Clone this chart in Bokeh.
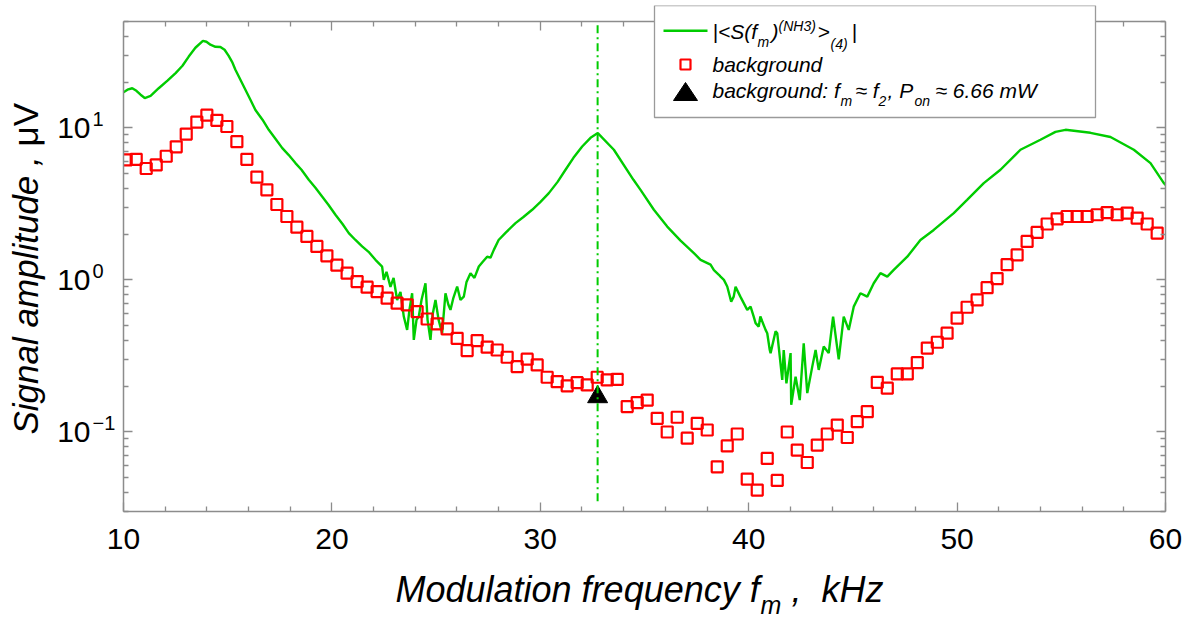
import math
from bokeh.plotting import figure
from bokeh.layouts import column, row
from bokeh.models import (Range1d, LinearAxis, LogAxis, FixedTicker, Label,
                          BoxAnnotation, PolyAnnotation, CustomJSTickFormatter)
from bokeh.embed import file_html
from bokeh.resources import INLINE

# ---------------- data ----------------
sig_f = [10.00, 10.19, 10.42, 10.62, 10.82, 11.02, 11.30, 11.69, 12.11, 12.50,
         12.83, 13.13, 13.45, 13.81, 13.98, 14.17, 14.41, 14.65, 14.85, 15.04,
         15.23, 15.37, 15.61, 15.85, 16.09, 16.33, 16.67, 16.97, 17.29, 17.62,
         17.92, 18.25, 18.54, 18.89, 19.21, 19.53, 19.84, 20.17, 20.51, 20.81,
         21.13, 21.45, 21.76, 22.09, 22.41, 22.49, 22.62, 22.81, 22.96, 23.13,
         23.29, 23.45, 23.61, 23.72, 23.85, 23.93, 24.06, 24.17, 24.30, 24.49,
         24.59, 24.73, 24.83, 24.97, 25.12, 25.29, 25.45, 25.59, 25.69, 25.83,
         26.01, 26.17, 26.33, 26.46, 26.65, 26.84, 27.05, 27.23, 27.45, 27.61,
         27.77, 28.00, 28.33, 28.81, 29.19, 29.61, 30.01, 30.41, 30.83, 31.21,
         31.59, 32.01, 32.41, 32.76, 33.53, 34.47, 34.81, 35.45, 36.09, 36.73,
         37.37, 37.69, 38.17, 38.33, 38.57, 38.65, 38.81, 38.97, 39.16, 39.28,
         39.37, 39.60, 39.93, 40.09, 40.24, 40.33, 40.48, 40.56, 40.81, 40.89,
         41.01, 41.05, 41.29, 41.37, 41.61, 41.68, 41.81, 42.01, 42.04, 42.25,
         42.45, 42.64, 42.81, 43.05, 43.21, 43.36, 43.60, 43.84, 44.05, 44.32,
         44.56, 44.80, 45.04, 45.36, 45.69, 46.00, 46.32, 46.65, 46.96, 47.61,
         48.24, 48.88, 49.84, 50.48, 51.28, 52.08, 53.04, 54.00, 54.72, 55.20,
         56.40, 57.36, 58.48, 59.28, 59.92, 60.00]
sig_v = [17.1, 17.8, 18.2, 17.5, 16.5, 15.7, 16.2, 18.2, 20.4, 22.9,
         25.6, 29.4, 33.6, 37.3, 36.8, 35.2, 34.1, 34.0, 32.6, 29.8,
         26.8, 24.1, 20.7, 17.8, 15.3, 13.1, 11.3, 9.70, 8.47, 7.35,
         6.64, 5.86, 5.30, 4.55, 4.03, 3.53, 3.11, 2.68, 2.33, 2.03,
         1.83, 1.66, 1.53, 1.355, 1.224, 1.0, 1.13, 0.90, 1.03, 0.738,
         0.834, 0.574, 0.469, 0.635, 0.817, 0.403, 0.546, 0.574, 0.738, 0.95,
         0.546, 0.403, 0.589, 0.738, 0.546, 0.446, 0.817, 0.686, 0.635, 0.762,
         0.904, 0.738, 0.776, 0.97, 1.107, 1.03, 1.224, 1.31, 1.42, 1.40,
         1.575, 1.83, 2.04, 2.36, 2.59, 2.89, 3.26, 3.72, 4.41, 5.30,
         6.35, 7.53, 8.59, 9.23, 7.17, 4.55, 3.91, 2.89, 2.24, 1.81,
         1.50, 1.355, 1.26, 1.16, 1.08, 1.05, 1.0, 0.904, 0.72, 0.776,
         0.90, 0.776, 0.635, 0.667, 0.574, 0.52, 0.493, 0.574, 0.469, 0.446,
         0.346, 0.330, 0.46, 0.446, 0.22, 0.346, 0.209, 0.330, 0.151, 0.231,
         0.162, 0.383, 0.180, 0.269, 0.346, 0.256, 0.365, 0.330, 0.574, 0.30,
         0.574, 0.469, 0.667, 0.817, 0.776, 0.95, 1.107, 1.05, 1.164, 1.42,
         1.83, 2.13, 2.75, 3.36, 4.33, 5.30, 7.17, 8.34, 9.4, 9.7,
         9.27, 8.7, 7.17, 5.86, 4.33, 4.2]

bg_f = [10.13, 10.61, 11.09, 11.57, 12.05, 12.53, 13.01, 13.52, 14.00, 14.48,
        14.96, 15.44, 15.92, 16.40, 16.88, 17.36, 17.84, 18.32, 18.80, 19.28,
        19.76, 20.24, 20.73, 21.21, 21.69, 22.17, 22.65, 23.13, 23.61, 24.09,
        24.57, 25.05, 25.53, 26.01, 26.49, 26.97, 27.45, 27.93, 28.41, 28.89,
        29.37, 29.85, 30.33, 30.81, 31.29, 31.77, 32.25, 32.73, 33.21, 33.69,
        34.17, 34.65, 35.13, 35.61, 36.09, 36.57, 37.05, 37.53, 38.01, 38.49,
        38.97, 39.45, 39.93, 40.41, 40.89, 41.37, 41.85, 42.33, 42.81, 43.29,
        43.77, 44.25, 44.73, 45.21, 45.69, 46.17, 46.65, 47.13, 47.61, 48.09,
        48.57, 49.05, 49.52, 50.00, 50.48, 50.96, 51.44, 51.92, 52.40, 52.88,
        53.36, 53.84, 54.32, 54.80, 55.28, 55.76, 56.24, 56.72, 57.20, 57.68,
        58.16, 58.64, 59.12, 59.60]
bg_v = [6.16, 6.2, 5.4, 5.7, 6.5, 7.5, 9.1, 10.9, 12.1, 11.2,
        10.2, 8.1, 6.2, 4.74, 3.91, 3.13, 2.61, 2.22, 1.93, 1.66,
        1.44, 1.25, 1.107, 0.975, 0.895, 0.838, 0.758, 0.703, 0.686, 0.618,
        0.553, 0.514, 0.476, 0.413, 0.343, 0.399, 0.361, 0.346, 0.310, 0.269,
        0.301, 0.276, 0.229, 0.214, 0.201, 0.211, 0.204, 0.229, 0.220, 0.222,
        0.147, 0.156, 0.162, 0.123, 0.100, 0.125, 0.091, 0.114, 0.103, 0.059,
        0.081, 0.097, 0.049, 0.0415, 0.067, 0.048, 0.100, 0.076, 0.063, 0.082,
        0.097, 0.111, 0.092, 0.117, 0.136, 0.212, 0.194, 0.241, 0.241, 0.286,
        0.356, 0.389, 0.446, 0.560, 0.661, 0.738, 0.889, 1.02, 1.26, 1.46,
        1.79, 2.05, 2.33, 2.52, 2.61, 2.61, 2.61, 2.68, 2.77, 2.68,
        2.75, 2.55, 2.33, 2.03]

tri_f = [32.75]
tri_v = [0.17]
f2_line_f = [32.75, 32.75]
f2_line_v = [0.035, 50]

x_ticks = [10, 20, 30, 40, 50, 60]
x_minor = [12, 14, 16, 18, 22, 24, 26, 28, 32, 34, 36, 38, 42, 44, 46, 48, 52, 54, 56, 58]
y_ticks = [0.1, 1, 10]
y_tick_base = ["10", "10", "10"]
y_exponents = ["\u22121", "0", "1"]
y_minor = [0.03, 0.04, 0.05, 0.06, 0.07, 0.08, 0.09,
           0.2, 0.3, 0.4, 0.5, 0.6, 0.7, 0.8, 0.9,
           2, 3, 4, 5, 6, 7, 8, 9, 20, 30, 40, 50]
y_axis_lo, y_axis_hi = 0.03, 50     # extent of the drawn axes
y_view_hi = 63.7                    # view top (room for the legend above the axis box)

GREEN = "#00cc00"
RED = "#ff0000"
AXC = "#8c8c8c"
FONT = "Liberation Sans"
NB = "\u00a0"

YT_W = 118
TOP_H = 515
XT_H = 103

blank = CustomJSTickFormatter(code="return ''")

def clean(fig):
    fig.outline_line_color = None
    fig.xgrid.visible = False
    fig.ygrid.visible = False
    fig.background_fill_color = "white"
    fig.border_fill_color = "white"

def style_axis(ax):
    ax.axis_line_color = AXC
    ax.axis_line_width = 1.5
    ax.major_tick_line_color = AXC
    ax.minor_tick_line_color = AXC
    ax.major_tick_line_width = 1.3
    ax.minor_tick_line_width = 1.3
    ax.major_tick_in = 9
    ax.major_tick_out = 0
    ax.minor_tick_in = 5
    ax.minor_tick_out = 0
    ax.major_label_text_font_size = "1px"
    ax.major_label_standoff = 0

# ---------------- main plot ----------------
p = figure(width=1190 - YT_W, height=TOP_H, x_range=Range1d(10, 60),
           y_range=Range1d(y_axis_lo, y_view_hi),
           y_axis_type="log", output_backend="svg", toolbar_location=None,
           min_border_left=5, min_border_right=25, min_border_top=5, min_border_bottom=4,
           x_axis_location=None, y_axis_location=None)
clean(p)

xt = FixedTicker(ticks=x_ticks, minor_ticks=x_minor)
yt = FixedTicker(ticks=y_ticks, minor_ticks=y_minor)

xb = LinearAxis(ticker=xt, formatter=blank)
style_axis(xb)
p.add_layout(xb, "below")
xa = LinearAxis(ticker=xt, formatter=blank, fixed_location=y_axis_hi)
style_axis(xa)
p.add_layout(xa, "above")
for loc in ("left", "right"):
    ax = LogAxis(ticker=yt, formatter=blank, bounds=(y_axis_lo, y_axis_hi))
    style_axis(ax)
    p.add_layout(ax, loc)

p.line(sig_f, sig_v, line_color=GREEN, line_width=2.4)
p.scatter(bg_f, bg_v, marker="square", size=11, fill_color=None,
          line_color=RED, line_width=2.2)
p.scatter(tri_f, tri_v, marker="triangle", size=20, fill_color="black", line_color="black")
p.line(f2_line_f, f2_line_v, line_color=GREEN, line_width=2, line_dash="8 4 2 4")

FL, FB = 123, 511
BASE_FIX = 0.3   # alphabetic baseline correction (fraction of font size)

def lab(fig, X, Y, text, size, left=FL, bottom=FB, italic=True, align="left", angle=0.0):
    if angle == 0.0:
        Y = Y - BASE_FIX * size
    else:
        X = X - BASE_FIX * size
    fig.add_layout(Label(x=X - left, y=bottom - Y, x_units="screen", y_units="screen",
                         text=text, text_font=FONT, text_font_size=f"{size}px",
                         text_font_style="italic" if italic else "normal",
                         text_align=align, text_baseline="alphabetic", angle=angle,
                         text_color="black"))

def sbox(l, r, t, b, **kw):
    p.add_layout(BoxAnnotation(left=l - FL, right=r - FL, top=FB - t, bottom=FB - b,
                               left_units="screen", right_units="screen",
                               top_units="screen", bottom_units="screen", **kw))

# legend
sbox(654, 1095, 5, 117, fill_color="white", fill_alpha=1.0,
     line_color="#9a9a9a", line_alpha=1.0, line_width=1.3)
sbox(663, 707, 29, 31.5, fill_color=GREEN, fill_alpha=1.0, line_color=None)
sbox(680, 690, 59, 69, fill_color=None, fill_alpha=0.0, line_color=RED,
     line_alpha=1.0, line_width=2.2)
p.add_layout(PolyAnnotation(xs=[673 - FL, 697 - FL, 685 - FL], ys=[FB - 100, FB - 100, FB - 82],
                            xs_units="screen", ys_units="screen",
                            fill_color="black", fill_alpha=1.0, line_color="black", line_alpha=1.0))

LS, SS = 21, 14
lab(p, 712, 37, "|<S(f", LS)
lab(p, 757, 46, "m", SS)
lab(p, 771, 37, ")", LS)
lab(p, 778, 30, "(NH3)", SS)
lab(p, 817, 37, ">", LS)
lab(p, 830, 48, "(4)", SS)
lab(p, 851, 37, "|", LS)

lab(p, 712, 70, "background", LS)

lab(p, 712, 96, "background: f", LS)
lab(p, 840, 105, "m", SS)
lab(p, 855, 96, "\u2248 f", LS)
lab(p, 878, 105, "2", SS)
lab(p, 887, 96, ", P", LS)
lab(p, 914, 105, "on", SS)
lab(p, 935, 96, "\u2248 6.66 mW", LS)

# ---------------- left strip: y tick labels + y title ----------------
yf = figure(width=YT_W, height=TOP_H, x_range=Range1d(0, YT_W), y_range=p.y_range,
            y_axis_type="log", output_backend="svg", toolbar_location=None,
            min_border_left=0, min_border_right=0, min_border_top=5, min_border_bottom=4,
            x_axis_location=None, y_axis_location=None)
clean(yf)
for v, b, e in zip(y_ticks, y_tick_base, y_exponents):
    yf.add_layout(Label(x=90, y=v, x_units="screen", y_units="data", text=b,
                        text_font=FONT, text_font_size="30px", text_align="right",
                        text_baseline="middle", text_color="black"))
    yf.add_layout(Label(x=92, y=v, x_units="screen", y_units="data", y_offset=9, text=e,
                        text_font=FONT, text_font_size="20px", text_align="left",
                        text_baseline="alphabetic", text_color="black"))
lab(yf, 35, 434, "Signal amplitude ,", 35, left=0, angle=math.pi / 2)
lab(yf, 35, 146, "\u03bcV", 35, left=0, italic=False, angle=math.pi / 2)

# ---------------- bottom strip: x tick labels + x title ----------------
xf = figure(width=1190, height=XT_H, x_range=p.x_range, y_range=Range1d(0, 1),
            output_backend="svg", toolbar_location=None,
            min_border_left=123, min_border_right=25, min_border_top=45, min_border_bottom=0,
            x_axis_location=None, y_axis_location=None)
clean(xf)
xl = LinearAxis(ticker=xt)
xl.axis_line_color = None
xl.major_tick_line_color = None
xl.minor_tick_line_color = None
xl.major_label_text_font = FONT
xl.major_label_text_font_size = "30px"
xl.major_label_text_color = "black"
xl.major_label_standoff = 6
xf.add_layout(xl, "above")

XB = TOP_H + XT_H
lab(xf, 395, 600, "Modulation frequency f", 36, bottom=XB)
lab(xf, 760, 612, "m", 25, bottom=XB)
lab(xf, 781, 600, NB + "," + NB + NB + "kHz", 36, bottom=XB)

layout = column(row(yf, p), xf)
open("out.html", "w").write(file_html(layout, INLINE))
